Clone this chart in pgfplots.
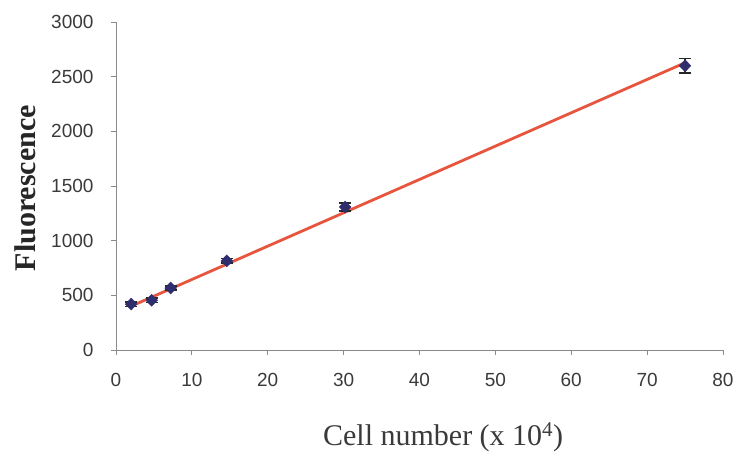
\documentclass[border=0pt]{standalone}
\usepackage{pgfplots}
\pgfplotsset{compat=1.18}
\usepackage{fontspec}
\setmainfont{Liberation Serif}
\newfontfamily\arialfont{Liberation Sans}
\definecolor{axgray}{HTML}{8A8A8A}
\definecolor{ticktext}{HTML}{3A3A3A}
\definecolor{navy}{HTML}{2E2E6E}
\definecolor{fitred}{HTML}{E8553F}
\begin{document}
\begin{tikzpicture}
\useasboundingbox (-116pt,-117pt) rectangle (621pt,350pt);
\begin{axis}[
  at={(0,0)}, anchor=south west,
  scale only axis, width=607pt, height=328pt,
  xmin=0, xmax=80, ymin=0, ymax=3000,
  xtick={0,10,...,80}, ytick={0,500,...,3000},
  axis x line*=bottom, axis y line*=left,
  axis line style={axgray, line width=0.8pt},
  every tick/.style={axgray, line width=0.8pt},
  tick align=outside, major tick length=5pt,
  tick label style={font=\arialfont\fontsize{19}{19}\selectfont, text=ticktext},
  /pgf/number format/assume math mode=true,
  /pgf/number format/1000 sep={},
  xticklabel style={yshift=-15pt},
  yticklabel style={xshift=-14pt},
  xlabel={Cell number (x 10\textsuperscript{4})},
  xlabel style={at={(axis description cs:0.539,-0.267)}, anchor=center, font=\fontsize{30}{30}\selectfont, text=ticktext},
  ylabel={\textbf{Fluorescence}},
  ylabel style={at={(axis description cs:-0.15,0.493)}, anchor=center, font=\fontsize{30}{30}\selectfont, text=black!85},
  clip=false,
]
\addplot[fitred, line width=2.8pt, no marks] coordinates {(2,401) (75,2627)};
\addplot[only marks, mark=diamond*, mark size=6pt, mark options={xscale=1.3}, color=navy,
  error bars/.cd, y dir=both, y explicit,
  error bar style={black!85, line width=1.4pt}, error mark options={black!85, line width=1.4pt, mark size=6pt, rotate=90}]
  coordinates {
  (2,420) +- (0,20)
  (4.7,455) +- (0,20)
  (7.2,567) +- (0,20)
  (14.6,815) +- (0,20)
  (30.2,1308) +- (0,35)
  (75,2600) +- (0,65)
  };
\end{axis}
\end{tikzpicture}
\end{document}
